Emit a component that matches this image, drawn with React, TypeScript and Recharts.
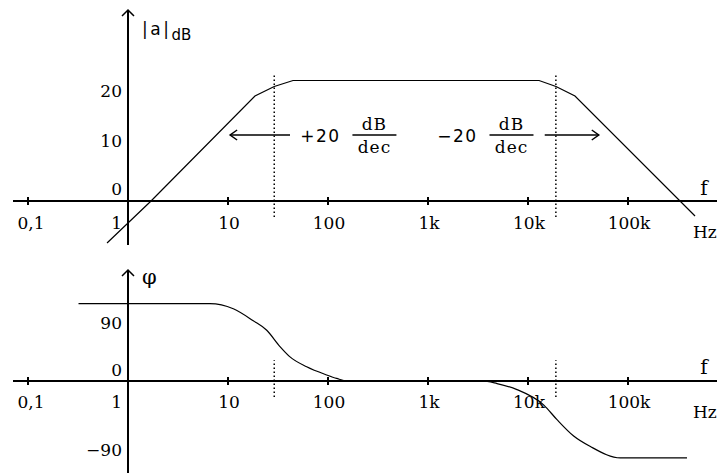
import React from "react";
import { LineChart, Line, XAxis, YAxis, ReferenceLine, ReferenceDot } from "recharts";

// frequency axis: log scale, 100 px per decade, 1 Hz on the vertical axis
const F_MIN = Math.pow(10, -1.15);
const F_MAX = Math.pow(10, 5.89);

const decades = [0.1, 1, 10, 100, 1000, 10000, 100000];
const decadeLabels = ["0,1", "1", "10", "100", "1k", "10k", "100k"];

// |a| in dB (asymptotes with rounded corners)
const gainFreq = [0.617, 1.7, 18.6, 29, 44.7, 12900, 19050, 29500, 468000];
const gainDb = [-8.4, 0, 21, 22.9, 24.1, 24.1, 22.9, 21, -3];

// phase in degrees
const phaseFreq = [
  0.32, 6.6, 11.3, 17.9, 24.4, 33.1, 41.7, 61.2, 97, 122, 155, 3470, 4900, 7760,
  14400, 19500, 28600, 41700, 83800, 389000,
];
const phaseDeg = [90, 90, 84, 70, 59, 40, 28, 16.5, 7, 3, 0, 0, -3, -10, -28, -45, -64, -76, -89.5, -89.5];

const gainTicks = [0, 10, 20];
const phaseTicks = [90, 0, -90];
const phaseTickLabels = ["90", "0", "\u221290"];

const cornerFreqs = [29, 19000];
const slopeLabels = ["+20", "\u221220"];
const slopeLabelFreqs = [84, 1972];
const slopeArrows = [
  [41.7, 10.5],
  [14700, 51000],
];
const slopeArrowDb = 13.2;

const GAIN_DOMAIN = [-8.8, 38.2];
const PHASE_DOMAIN = [-107, 129.07];

const gainData = gainFreq.map((f, i) => ({ f, v: gainDb[i] }));
const phaseData = phaseFreq.map((f, i) => ({ f, v: phaseDeg[i] }));

const SERIF = "'DejaVu Serif', serif";
const SANS = "'DejaVu Sans', sans-serif";
const INK = "#000";
const TICK_SIZE = 17;

type TxtOpts = { dx?: number; dy?: number; anchor?: "start" | "middle" | "end"; size?: number; family?: string; spacing?: number };

const textShape = (content: React.ReactNode, o: TxtOpts = {}) => (p: any) => (
  <text
    x={p.cx + (o.dx ?? 0)}
    y={p.cy + (o.dy ?? 0)}
    textAnchor={o.anchor ?? "middle"}
    fontSize={o.size ?? TICK_SIZE}
    fontFamily={o.family ?? SERIF}
    letterSpacing={o.spacing ?? 0}
    fill={INK}
  >
    {content}
  </text>
);

const arrowHead = (dir: "up" | "left" | "right", len = 6, half = 5) => (p: any) => {
  const { cx, cy } = p;
  let pts = "";
  if (dir === "up") pts = `${cx - half},${cy + len} ${cx},${cy} ${cx + half},${cy + len}`;
  if (dir === "left") pts = `${cx + len},${cy - half} ${cx},${cy} ${cx + len},${cy + half}`;
  if (dir === "right") pts = `${cx - len},${cy - half} ${cx},${cy} ${cx - len},${cy + half}`;
  return <polyline points={pts} fill="none" stroke={INK} strokeWidth={1.5} />;
};

const fractionShape = (label: string) => (p: any) => {
  const fx = p.cx + 54;
  return (
    <g fill={INK}>
      <text x={p.cx} y={p.cy + 7} textAnchor="middle" fontSize={17} fontFamily={SANS} letterSpacing={1.5}>
        {label}
      </text>
      <text x={fx} y={p.cy - 5} textAnchor="middle" fontSize={17} fontFamily={SERIF} letterSpacing={1}>
        dB
      </text>
      <line x1={fx - 22} x2={fx + 22} y1={p.cy} y2={p.cy} stroke={INK} strokeWidth={1.3} />
      <text x={fx} y={p.cy + 18} textAnchor="middle" fontSize={17} fontFamily={SERIF} letterSpacing={1}>
        dec
      </text>
    </g>
  );
};

const freqAxis = (tickHalf: number, labelDy: number, fDy: number) => [
  <ReferenceLine key="ax" y={0} stroke={INK} strokeWidth={2} />,
  ...decades.map((d) => (
    <ReferenceLine
      key={`t${d}`}
      segment={[{ x: d, y: -tickHalf }, { x: d, y: tickHalf }]}
      stroke={INK}
      strokeWidth={2}
    />
  )),
  ...decades.map((d, i) => (
    <ReferenceDot
      key={`l${d}`}
      x={d}
      y={0}
      r={0}
      ifOverflow="visible"
      shape={textShape(decadeLabels[i], i === 1 ? { dx: -6, dy: labelDy, anchor: "end" } : { dx: i === 0 ? 3 : 1, dy: labelDy })}
    />
  )),
  <ReferenceDot key="f" x={F_MAX} y={0} r={0} ifOverflow="visible" shape={textShape("f", { dx: -13, dy: fDy, size: 20 })} />,
  <ReferenceDot key="hz" x={F_MAX} y={0} r={0} ifOverflow="visible" shape={textShape("Hz", { dx: -24, dy: 37, anchor: "start" })} />,
];

const cornerLines = (lo: number, hi: number) =>
  cornerFreqs.map((c) => (
    <ReferenceLine
      key={`c${c}`}
      segment={[{ x: c, y: lo }, { x: c, y: hi }]}
      stroke={INK}
      strokeWidth={1.5}
      strokeDasharray="1.5 2.5"
    />
  ));

const GainPanel = () => (
  <LineChart width={717} height={250} margin={{ top: 10, right: 0, bottom: 5, left: 13 }}>
    <XAxis type="number" dataKey="f" scale="log" domain={[F_MIN, F_MAX]} allowDataOverflow hide />
    <YAxis type="number" domain={GAIN_DOMAIN} allowDataOverflow hide />
    {freqAxis(0.8, 28, -6)}
    <ReferenceLine x={1} stroke={INK} strokeWidth={2} />
    <ReferenceDot x={1} y={GAIN_DOMAIN[1]} r={0} ifOverflow="visible" shape={arrowHead("up", 6, 6)} />
    <ReferenceDot
      x={1}
      y={GAIN_DOMAIN[1]}
      r={0}
      ifOverflow="visible"
      shape={(p: any) => (
        <text x={p.cx + 14} y={p.cy + 25} fontFamily={SANS} fontSize={17} letterSpacing={2.5} fill={INK}>
          |a|
          <tspan fontSize={15} dy={5} letterSpacing={0}>
            dB
          </tspan>
        </text>
      )}
    />
    {gainTicks.map((t) => (
      <ReferenceDot key={`g${t}`} x={1} y={t} r={0} ifOverflow="visible" shape={textShape(String(t), { dx: -6, dy: t === 0 ? -6 : -4, anchor: "end" })} />
    ))}
    {cornerLines(-3.2, 25.6)}
    {slopeArrows.map(([from, to], i) => (
      <ReferenceLine
        key={`s${i}`}
        segment={[{ x: from, y: slopeArrowDb }, { x: to, y: slopeArrowDb }]}
        stroke={INK}
        strokeWidth={1.5}
      />
    ))}
    {slopeArrows.map(([from, to], i) => (
      <ReferenceDot key={`h${i}`} x={to} y={slopeArrowDb} r={0} ifOverflow="visible" shape={arrowHead(to < from ? "left" : "right", 7, 5)} />
    ))}
    {slopeLabels.map((s, i) => (
      <ReferenceDot key={s} x={slopeLabelFreqs[i]} y={slopeArrowDb} r={0} ifOverflow="visible" shape={fractionShape(s)} />
    ))}
    <Line data={gainData} dataKey="v" type="linear" stroke={INK} strokeWidth={1.2} dot={false} isAnimationActive={false} />
  </LineChart>
);

const PhasePanel = () => (
  <LineChart width={717} height={223} margin={{ top: 20, right: 0, bottom: 0, left: 13 }}>
    <XAxis type="number" dataKey="f" scale="log" domain={[F_MIN, F_MAX]} allowDataOverflow hide />
    <YAxis type="number" domain={PHASE_DOMAIN} allowDataOverflow hide />
    {freqAxis(4.6, 27, -7)}
    <ReferenceLine x={1} stroke={INK} strokeWidth={2} />
    <ReferenceDot x={1} y={PHASE_DOMAIN[1]} r={0} ifOverflow="visible" shape={arrowHead("up", 6, 6)} />
    <ReferenceDot x={1} y={PHASE_DOMAIN[1]} r={0} ifOverflow="visible" shape={textShape("\u03c6", { dx: 14, dy: 14, size: 21, anchor: "start" })} />
    {phaseTicks.map((t, i) => (
      <ReferenceDot
        key={`p${t}`}
        x={1}
        y={t}
        r={0}
        ifOverflow="visible"
        shape={textShape(phaseTickLabels[i], { dx: -6, dy: t > 0 ? 25 : t === 0 ? -5 : -2, anchor: "end" })}
      />
    ))}
    {cornerLines(-18.5, 24.2)}
    <Line data={phaseData} dataKey="v" type="monotoneX" stroke={INK} strokeWidth={1.2} dot={false} isAnimationActive={false} />
  </LineChart>
);

export default function App() {
  return (
    <div style={{ position: "absolute", left: 0, top: 0, width: 717, height: 473, background: "#fff", overflow: "hidden" }}>
      <div style={{ position: "absolute", left: 0, top: 0 }}>
        <GainPanel />
      </div>
      <div style={{ position: "absolute", left: 0, top: 250 }}>
        <PhasePanel />
      </div>
    </div>
  );
}
